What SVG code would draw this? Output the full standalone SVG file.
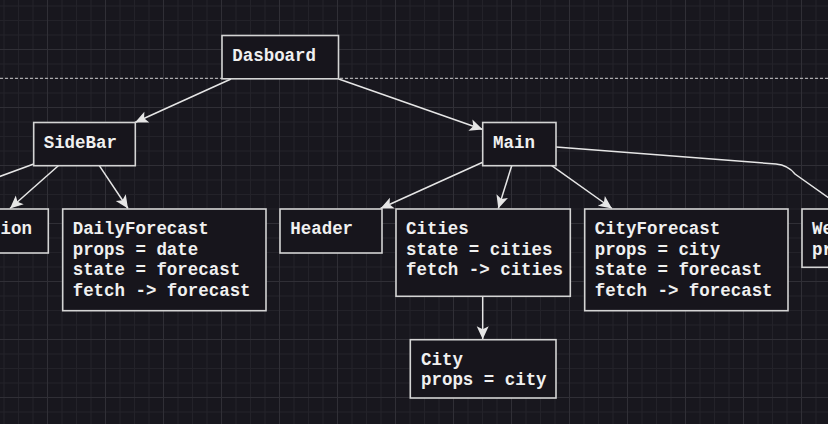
<svg xmlns="http://www.w3.org/2000/svg" width="828" height="424" viewBox="0 0 828 424">
<defs>
<pattern id="grid" x="-11" y="-9" width="58" height="58" patternUnits="userSpaceOnUse">
<rect x="0" y="0" width="58" height="58" fill="#18171e"/>
<g fill="#232229">
<rect x="14.5" y="0" width="1" height="58"/><rect x="29" y="0" width="1" height="58"/><rect x="43.5" y="0" width="1" height="58"/>
<rect x="0" y="14.5" width="58" height="1"/><rect x="0" y="29" width="58" height="1"/><rect x="0" y="43.5" width="58" height="1"/>
</g>
<g fill="#302f36">
<rect x="0" y="0" width="1" height="58"/><rect x="0" y="0" width="58" height="1"/>
</g>
</pattern>
<marker id="arr" markerUnits="userSpaceOnUse" markerWidth="16" markerHeight="16" viewBox="-14 -8 16 16" refX="0" refY="0" orient="auto">
<path d="M0,0 L-13,-6 L-10,0 L-13,6 Z" fill="#e6e6e6"/>
</marker>
</defs>
<style>
.box{fill:#17151c;stroke:#d4d4d4;stroke-width:1.6}
.t{font-family:"Liberation Mono","DejaVu Sans Mono",monospace;font-weight:bold;font-size:17.45px;fill:#f0f0f0}
.c{fill:none;stroke:#e6e6e6;stroke-width:1.5}
</style>
<rect width="828" height="424" fill="url(#grid)"/>
<line x1="0" y1="78.3" x2="828" y2="78.3" stroke="#cfcfcf" stroke-width="1" stroke-dasharray="3 2"/>
<g id="connectors">
<path class="c" d="M231,79 L135,122.5" marker-end="url(#arr)"/>
<path class="c" d="M338.7,79 L482.7,129.5" marker-end="url(#arr)"/>
<path class="c" d="M58.3,165.7 L10,208.5" marker-end="url(#arr)"/>
<path class="c" d="M99.3,165.7 L128,208.5" marker-end="url(#arr)"/>
<path class="c" d="M33.7,164 L-10,180"/>
<path class="c" d="M482.7,162.3 L380.5,208.5" marker-end="url(#arr)"/>
<path class="c" d="M511.7,165.7 L498.3,208.5" marker-end="url(#arr)"/>
<path class="c" d="M551.7,165.7 L612,208.5" marker-end="url(#arr)"/>
<path class="c" d="M556,147 L776,164 Q788,165 795,174 L846,210"/>
<path class="c" d="M482.7,296.3 L482.7,339.2" marker-end="url(#arr)"/>
</g>
<g id="dasboard"><rect class="box" x="222" y="35.5" width="116.5" height="43.3"/><text class="t" x="232.3" y="60.7">Dasboard</text></g>
<g id="sidebar"><rect class="box" x="33.7" y="122.5" width="101.6" height="43.2"/><text class="t" x="43.7" y="148">SideBar</text></g>
<g id="main"><rect class="box" x="482.7" y="122.5" width="73.3" height="43.2"/><text class="t" x="493" y="148">Main</text></g>
<g id="left-node"><rect class="box" x="-40" y="209" width="88.3" height="44"/><text class="t" x="0.5" y="234.3">ion</text></g>
<g id="dailyforecast"><rect class="box" x="62.7" y="209" width="203.3" height="101.7"/>
<text class="t" x="72.7" y="234.3">DailyForecast</text><text class="t" x="72.7" y="254.8">props = date</text><text class="t" x="72.7" y="275.3">state = forecast</text><text class="t" x="72.7" y="295.5">fetch -&gt; forecast</text></g>
<g id="header"><rect class="box" x="280" y="209" width="102" height="44"/><text class="t" x="290.3" y="234.3">Header</text></g>
<g id="cities"><rect class="box" x="396" y="209" width="174.3" height="87.3"/>
<text class="t" x="406" y="234.3">Cities</text><text class="t" x="406" y="254.8">state = cities</text><text class="t" x="406" y="275.3">fetch -&gt; cities</text></g>
<g id="cityforecast"><rect class="box" x="584.7" y="209" width="203.3" height="101.7"/>
<text class="t" x="594.7" y="234.3">CityForecast</text><text class="t" x="594.7" y="254.8">props = city</text><text class="t" x="594.7" y="275.3">state = forecast</text><text class="t" x="594.7" y="295.5">fetch -&gt; forecast</text></g>
<g id="city"><rect class="box" x="410.3" y="339.7" width="145.7" height="58.3"/>
<text class="t" x="421" y="364.7">City</text><text class="t" x="421" y="385.2">props = city</text></g>
<g id="right-node"><rect class="box" x="802" y="209" width="60" height="58.3"/>
<text class="t" x="812" y="234.3">We</text><text class="t" x="812" y="254.8">pr</text></g>
</svg>
